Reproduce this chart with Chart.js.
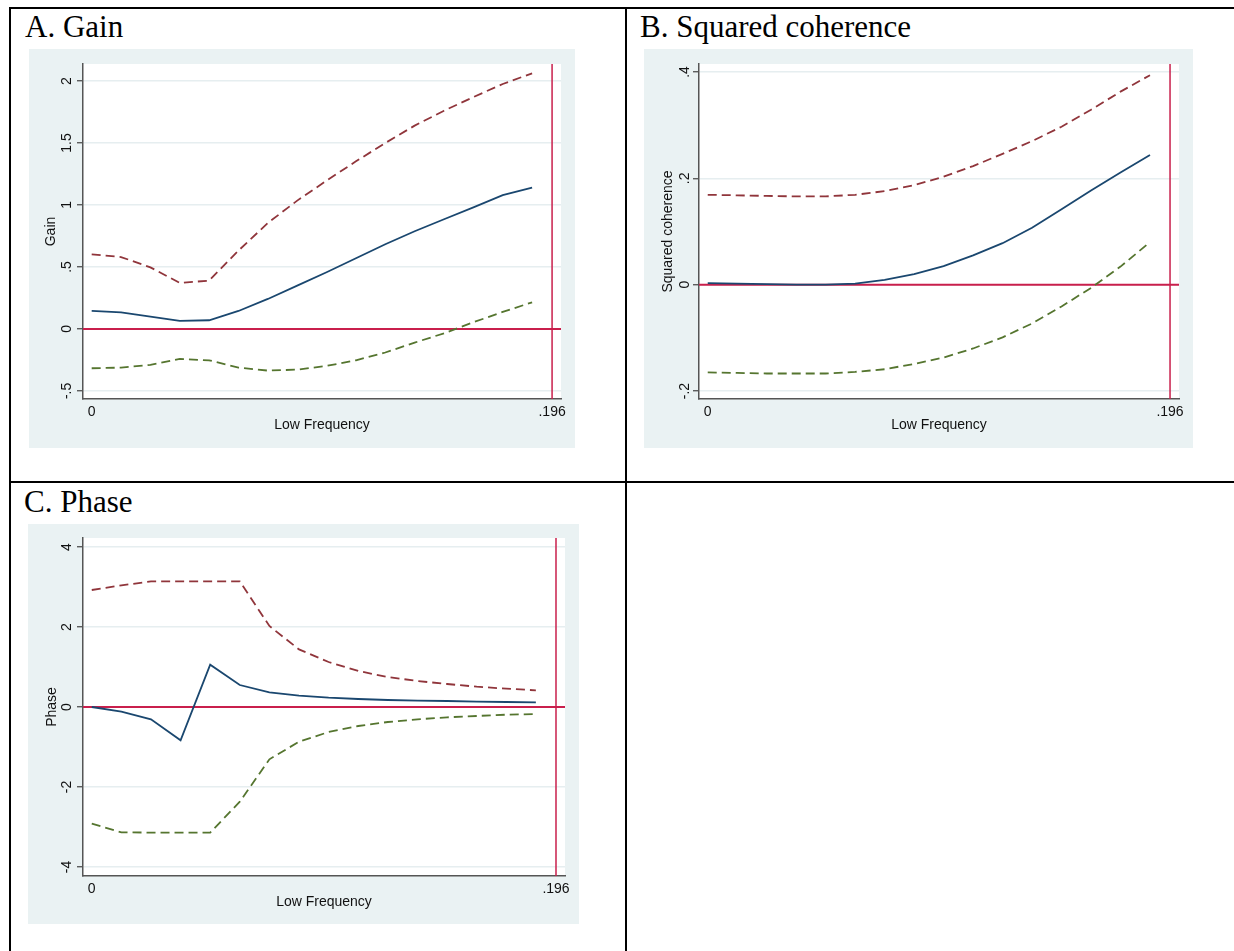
<!DOCTYPE html>
<html lang="en">
<head>
    <meta charset="UTF-8">
    <title>Gain, squared coherence and phase</title>
    <script src="https://cdn.jsdelivr.net/npm/chart.js"></script>
    <style>
        body { margin: 0; width: 1234px; height: 951px; overflow: hidden; background: #fff; position: relative; }
        .rule { position: absolute; background: #000; }
        .title { position: absolute; font-family: "Liberation Serif", "Times New Roman", serif; font-size: 31px; line-height: 31px; color: #000; white-space: nowrap; }
        .panel { position: absolute; background: #eaf2f3; }
    </style>
</head>
<body>
    <!-- table rules -->
    <div class="rule" style="left:9px; top:7px; width:1225px; height:2px;"></div>
    <div class="rule" style="left:9px; top:7px; width:2px; height:944px;"></div>
    <div class="rule" style="left:625px; top:7px; width:2px; height:944px;"></div>
    <div class="rule" style="left:9px; top:481px; width:1225px; height:2px;"></div>

    <div class="title" style="left:25px; top:11px;">A. Gain</div>
    <div class="title" style="left:640px; top:11px;">B. Squared coherence</div>
    <div class="title" style="left:24px; top:486px;">C. Phase</div>

    <div class="panel" style="left:29px; top:49px; width:546px; height:399px;"><canvas id="gain"></canvas></div>
    <div class="panel" style="left:644px; top:49px; width:549px; height:399px;"><canvas id="coh"></canvas></div>
    <div class="panel" style="left:28px; top:524px; width:551px; height:400px;"><canvas id="phase"></canvas></div>

    <script>
        // frequencies (x)
        const freq = [0, 0.0125, 0.025, 0.0375, 0.05, 0.0625, 0.075, 0.0875, 0.1, 0.1125, 0.125, 0.1375, 0.15, 0.1625, 0.175, 0.1875];

        // A. Gain
        const gainEst = [0.145, 0.134, 0.10, 0.065, 0.07, 0.145, 0.242, 0.35, 0.457, 0.57, 0.683, 0.788, 0.885, 0.98, 1.08, 1.14];
        const gainUp  = [0.602, 0.58, 0.497, 0.371, 0.39, 0.632, 0.855, 1.035, 1.196, 1.352, 1.50, 1.64, 1.76, 1.87, 1.976, 2.062];
        const gainLo  = [-0.317, -0.312, -0.29, -0.242, -0.253, -0.312, -0.336, -0.328, -0.298, -0.253, -0.19, -0.11, -0.035, 0.054, 0.137, 0.215];

        // B. Squared coherence
        const cohEst = [0.003, 0.002, 0.001, 0, 0, 0.002, 0.009, 0.02, 0.035, 0.055, 0.078, 0.107, 0.142, 0.177, 0.211, 0.244];
        const cohUp  = [0.169, 0.168, 0.167, 0.166, 0.166, 0.169, 0.176, 0.187, 0.203, 0.223, 0.246, 0.27, 0.297, 0.329, 0.363, 0.394];
        const cohLo  = [-0.165, -0.166, -0.167, -0.167, -0.167, -0.164, -0.159, -0.149, -0.137, -0.12, -0.099, -0.073, -0.041, -0.006, 0.034, 0.080];

        // C. Phase
        const phaseEst = [0, -0.117, -0.308, -0.833, 1.058, 0.55, 0.367, 0.283, 0.233, 0.2, 0.175, 0.158, 0.15, 0.133, 0.125, 0.117];
        const phaseUp  = [2.925, 3.04, 3.14, 3.14, 3.14, 3.14, 2.025, 1.44, 1.125, 0.9, 0.75, 0.65, 0.575, 0.508, 0.458, 0.417];
        const phaseLo  = [-2.917, -3.133, -3.14, -3.14, -3.14, -2.367, -1.308, -0.867, -0.625, -0.475, -0.375, -0.308, -0.258, -0.225, -0.192, -0.175];

        // axis ticks
        const xTicks = [0, 0.196];
        const xTickLabels = ['0', '.196'];
        const gainTicks = [-0.5, 0, 0.5, 1, 1.5, 2];
        const gainTickLabels = ['-.5', '0', '.5', '1', '1.5', '2'];
        const cohTicks = [-0.2, 0, 0.2, 0.4];
        const cohTickLabels = ['-.2', '0', '.2', '.4'];
        const phaseTicks = [-4, -2, 0, 2, 4];
        const phaseTickLabels = ['-4', '-2', '0', '2', '4'];

        // reference lines
        const refY = 0;
        const refX = 0.196;

        const sans = '"Liberation Sans", Arial, sans-serif';

        const plotBg = {
            id: 'plotBg',
            beforeDraw(chart) {
                const { ctx, chartArea: a } = chart;
                ctx.save();
                ctx.fillStyle = '#ffffff';
                ctx.fillRect(a.left, a.top, a.right - a.left, a.bottom - a.top);
                ctx.restore();
            }
        };

        const refLines = {
            id: 'refLines',
            beforeDatasetsDraw(chart) {
                const { ctx, chartArea: a, scales: { x, y } } = chart;
                ctx.save();
                ctx.strokeStyle = '#c91f4c';
                ctx.lineWidth = 2;
                const py = y.getPixelForValue(refY);
                ctx.beginPath(); ctx.moveTo(a.left, py); ctx.lineTo(a.right, py); ctx.stroke();
                ctx.lineWidth = 1.5;
                const px = x.getPixelForValue(refX);
                ctx.beginPath(); ctx.moveTo(px, a.top); ctx.lineTo(px, a.bottom); ctx.stroke();
                ctx.restore();
            }
        };

        function pts(ys) {
            return freq.map((f, i) => ({ x: f, y: ys[i] }));
        }

        function makePanel(id, p) {
            new Chart(document.getElementById(id), {
                type: 'line',
                data: {
                    datasets: [
                        { data: pts(p.up), borderColor: '#90353b', borderWidth: 1.8, borderDash: [9, 5] },
                        { data: pts(p.lo), borderColor: '#55752f', borderWidth: 1.8, borderDash: [9, 5] },
                        { data: pts(p.est), borderColor: '#1a476f', borderWidth: 1.8 }
                    ]
                },
                options: {
                    responsive: true,
                    maintainAspectRatio: false,
                    animation: false,
                    events: [],
                    elements: { point: { radius: 0 }, line: { tension: 0 } },
                    layout: { padding: { left: 0, top: p.top, right: 14, bottom: 0 } },
                    plugins: { legend: { display: false }, tooltip: { enabled: false } },
                    scales: {
                        x: {
                            type: 'linear',
                            min: -0.0037,
                            max: 0.1998,
                            afterBuildTicks: s => { s.ticks = xTicks.map(v => ({ value: v })); },
                            afterFit: s => { s.height = p.xh; },
                            grid: { display: false, drawTicks: false },
                            border: { color: '#555', width: 1.5 },
                            ticks: {
                                padding: 5,
                                color: '#111',
                                font: { family: sans, size: 14 },
                                maxRotation: 0,
                                autoSkip: false,
                                callback: (v, i) => xTickLabels[i]
                            },
                            title: {
                                display: true,
                                text: 'Low Frequency',
                                color: '#111',
                                font: { family: sans, size: 14 },
                                padding: { top: 0, bottom: p.xtp }
                            }
                        },
                        y: {
                            min: p.ymin,
                            max: p.ymax,
                            afterBuildTicks: s => { s.ticks = p.ticks.map(v => ({ value: v })); },
                            afterFit: s => { s.width = p.yw; },
                            grid: { color: '#e6eef0', lineWidth: 1.5, tickLength: 6, tickColor: '#444', tickWidth: 1.2 },
                            border: { color: '#555', width: 1.5 },
                            ticks: {
                                minRotation: 90,
                                maxRotation: 90,
                                crossAlign: 'center',
                                padding: p.tpad,
                                autoSkip: false,
                                color: '#111',
                                font: { family: sans, size: 14 },
                                callback: (v, i) => p.labels[i]
                            },
                            title: {
                                display: true,
                                text: p.ytitle,
                                color: '#111',
                                font: { family: sans, size: 14 },
                                padding: { top: p.ytp, bottom: 0 }
                            }
                        }
                    }
                },
                plugins: [plotBg, refLines]
            });
        }

        makePanel('gain', {
            est: gainEst, up: gainUp, lo: gainLo,
            ymin: -0.565, ymax: 2.137, ticks: gainTicks, labels: gainTickLabels,
            ytitle: 'Gain', top: 15, yw: 54, xh: 49, tpad: 0, ytp: 13.5, xtp: 14
        });

        makePanel('coh', {
            est: cohEst, up: cohUp, lo: cohLo,
            ymin: -0.215, ymax: 0.415, ticks: cohTicks, labels: cohTickLabels,
            ytitle: 'Squared coherence', top: 15, yw: 55, xh: 49, tpad: 0, ytp: 16, xtp: 14
        });

        makePanel('phase', {
            est: phaseEst, up: phaseUp, lo: phaseLo,
            ymin: -4.225, ymax: 4.225, ticks: phaseTicks, labels: phaseTickLabels,
            ytitle: 'Phase', top: 14, yw: 55, xh: 48, tpad: 3.2, ytp: 15.5, xtp: 13
        });
    </script>
</body>
</html>
